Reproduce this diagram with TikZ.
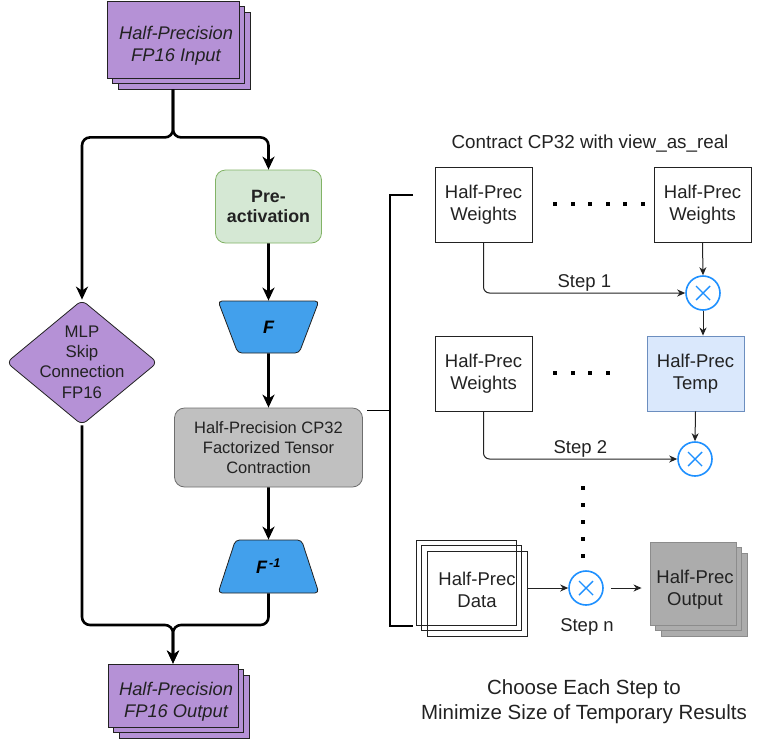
\documentclass[tikz,border=0pt]{standalone}
\usepackage{fontspec}
\setmainfont{Liberation Sans}
\usetikzlibrary{arrows.meta,shapes.geometric,shadows}
\definecolor{purp}{RGB}{181,145,214}
\definecolor{grnfill}{HTML}{D5E8D4}
\definecolor{grnline}{HTML}{82B366}
\definecolor{trapblue}{RGB}{66,160,236}
\definecolor{cpgray}{RGB}{192,192,192}
\definecolor{cpline}{RGB}{110,110,110}
\definecolor{tmpfill}{HTML}{DAE8FC}
\definecolor{tmpline}{HTML}{6C8EBF}
\definecolor{outgray}{RGB}{172,172,172}
\definecolor{outgrayline}{RGB}{140,140,140}
\definecolor{xblue}{RGB}{30,144,255}
\definecolor{dark}{RGB}{34,34,34}
\newcommand\myfs[2]{\fontsize{#1}{#2}\selectfont}
\begin{document}
\begin{tikzpicture}[x=1pt,y=-1pt,
  font=\myfs{18.5}{22},
  every node/.style={text=dark, inner sep=0pt},
  flow/.style={draw=black, line width=2.6pt, rounded corners=8pt, -{Stealth[length=13pt,width=12pt,inset=4pt]}},
  thinarrow/.style={draw=dark, line width=1pt, rounded corners=6pt, -{Stealth[length=8pt,width=7pt,inset=2.5pt]}},
  bracket/.style={draw=black, line width=1.8pt},
  dotsq/.style={fill=black},
  stackpurp/.style={draw=dark, line width=0.8pt, fill=purp,
     general shadow={shadow xshift=11pt, shadow yshift=-11pt, fill=purp, draw=dark, line width=0.8pt},
     general shadow={shadow xshift=5.5pt, shadow yshift=-5.5pt, fill=purp, draw=dark, line width=0.8pt}},
  datastack/.style={draw=dark, line width=0.9pt,
     general shadow={shadow xshift=11pt, shadow yshift=-11pt, draw=dark, line width=0.9pt},
     general shadow={shadow xshift=5.5pt, shadow yshift=-5.5pt, draw=dark, line width=0.9pt}},
  graystack/.style={draw=outgrayline, line width=0.9pt, fill=outgray,
     general shadow={shadow xshift=11pt, shadow yshift=-11pt, fill=outgray, draw=outgrayline, line width=0.9pt},
     general shadow={shadow xshift=5.5pt, shadow yshift=-5.5pt, fill=outgray, draw=outgrayline, line width=0.9pt}},
  diam/.style={diamond, draw=dark, fill=purp, line width=0.8pt, minimum width=151pt, minimum height=125pt, rounded corners=6pt},
  trapF/.style={trapezium, trapezium stretches=true, shape border rotate=180,
     trapezium left angle=74, trapezium right angle=74, minimum width=101pt, minimum height=52pt,
     fill=trapblue, draw=dark, line width=0.8pt, rounded corners=4pt, font=\myfs{18}{22}\bfseries\itshape, text=black},
  trapI/.style={trapezium, trapezium stretches=true,
     trapezium left angle=66.5, trapezium right angle=66.5, minimum width=101pt, minimum height=53pt,
     fill=trapblue, draw=dark, line width=0.8pt, rounded corners=4pt, font=\myfs{18}{22}\bfseries\itshape, text=black},
  wbox/.style={draw=dark, line width=0.9pt, fill=white, minimum width=97pt, minimum height=75pt, align=center},
  xnode/.style={circle, draw=xblue, line width=1.6pt, minimum size=34pt, fill=white,
     path picture={\draw[xblue, line width=1.4pt]
       ([shift={(-7pt,-7pt)}]path picture bounding box.center) -- ([shift={(7pt,7pt)}]path picture bounding box.center)
       ([shift={(-7pt,7pt)}]path picture bounding box.center) -- ([shift={(7pt,-7pt)}]path picture bounding box.center);}}
]
\useasboundingbox (0,0) rectangle (762,739);

% ---------- left column ----------
\node[stackpurp, minimum width=132pt, minimum height=77pt] (in) at (173,39.5) {};
\node[font=\myfs{18.3}{21.7}\itshape, align=center] (intext) at (176,46) {Half-Precision\\FP16 Input};

\node[diam] (dia) at (82,362.5) {};
\node[font=\myfs{16.8}{20.3}, align=center] (diatext) at (82,362) {MLP\\Skip\\Connection\\FP16};

\node[draw=grnline, fill=grnfill, line width=0.8pt, rounded corners=10pt, minimum width=106pt, minimum height=73pt,
      font=\myfs{17.8}{20.5}\bfseries, align=center] (pre) at (268.5,206.5) {Pre-\\activation};

\node[trapF] (f) at (268.5,327) {F};

\node[draw=cpline, fill=cpgray, line width=0.8pt, rounded corners=10pt, minimum width=188pt, minimum height=79pt,
      font=\myfs{16.5}{20}, align=center] (cp) at (268.5,447.5) {Half-Precision CP32\\Factorized Tensor\\Contraction};

\node[trapI] (finv) at (268.5,566.5) {F\textsuperscript{\,-1}};

\node[stackpurp, minimum width=130pt, minimum height=63pt] (out) at (173,695.5) {};
\node[font=\myfs{18.3}{21.7}\itshape, align=center] (outtext) at (176,702) {Half-Precision\\FP16 Output};

\draw[flow] ([yshift=-11pt]in.south) -- ++(0,48) -| (dia.north);
\draw[flow] ([yshift=-11pt]in.south) -- ++(0,48) -| (pre.north);
\draw[flow] (pre.south) -- (f.north);
\draw[flow] (f.south) -- (cp.north);
\draw[flow] (cp.south) -- (finv.north);
\coordinate (mg) at (173,625);
\draw[flow] (dia.south) |- (mg) -- (out.north);
\draw[flow] (finv.south) |- (mg) -- (out.north);

% ---------- bracket ----------
\draw[bracket] (413,195) -| (390,626) -- (413,626);
\draw[bracket] (390,410.5) -- (367,410.5);

% ---------- right column ----------
\node[anchor=base, font=\myfs{18.8}{22}] (title) at (590,148) {Contract CP32 with view\_as\_real};

\node[wbox] (w1) at (483.5,204.5) {Half-Prec\\Weights};
\node[wbox] (w2) at (702.5,204.5) {Half-Prec\\Weights};
\node[xnode] (x1) at (703,293) {};
\node[wbox] (w3) at (483.5,373.5) {Half-Prec\\Weights};
\node[wbox, fill=tmpfill, draw=tmpline] (tmp) at (695.5,373.5) {Half-Prec\\Temp};
\node[xnode] (x2) at (695,459) {};
\node[xnode] (xn) at (586,588) {};

\node[datastack, minimum width=100pt, minimum height=85pt] (data) at (466,582.5) {};
\node[align=center] (datatext) at (477,590) {Half-Prec\\Data};
\node[graystack, minimum width=86pt, minimum height=83pt] (hpout) at (693,583.5) {};
\node[align=center] (hpouttext) at (695,590) {Half-Prec\\Output};

\node[anchor=base] (stepn) at (587,631) {Step n};
\node[font=\myfs{20.5}{25}, align=center] (note) at (584,702) {Choose Each Step to\\Minimize Size of Temporary Results};

\draw[thinarrow] (w2.south) -- (x1.north);
\draw[thinarrow] (w1.south) |- (x1.west) node[pos=0.75, above=1pt] (s1) {Step 1};
\draw[thinarrow] (x1.south) -- (x1.south |- tmp.north);
\draw[thinarrow] (tmp.south) -- (x2.north);
\draw[thinarrow] (w3.south) |- (x2.west) node[pos=0.75, above=1pt] (s2) {Step 2};
\coordinate (dataout) at (527,588);
\draw[thinarrow] (dataout) -- (xn.west);
\draw[thinarrow, shorten <=7pt, shorten >=8pt] (xn.east) -- (xn.east -| hpout.west);

% ---------- dots ----------
\foreach \i in {0,...,5} \fill[dotsq] ({555+17.6*\i-2},202) rectangle ++(4,4);
\foreach \i in {0,...,3} \fill[dotsq] ({555+17.6*\i-2},371) rectangle ++(4,4);
\foreach \i in {0,...,4} \fill[dotsq] (581,{488+17*\i-2}) rectangle ++(4,4);
\end{tikzpicture}
\end{document}
